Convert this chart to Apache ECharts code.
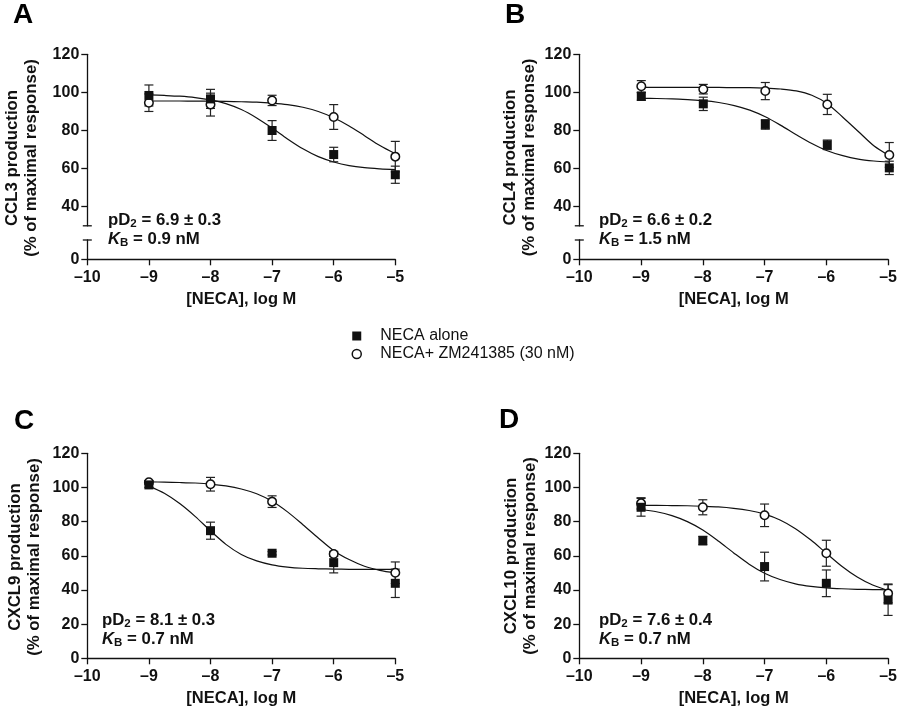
<!DOCTYPE html>
<html><head><meta charset="utf-8">
<script src="https://cdn.jsdelivr.net/npm/echarts@6/dist/echarts.min.js"></script>
<style>html,body{margin:0;padding:0;background:#fff}#c{width:900px;height:709px}</style>
</head><body><div id="c"></div>
<script>
// ---------- data ----------
const xTickValues = [-10, -9, -8, -7, -6, -5];
const doseLogM = [-9, -8, -7, -6, -5];
const fitLogM = [-9, -8.75, -8.5, -8.25, -8, -7.75, -7.5, -7.25, -7, -6.75, -6.5, -6.25, -6, -5.75, -5.5, -5.25, -5];
const seriesNames = ['NECA alone', 'NECA+ ZM241385 (30 nM)'];
const panelLetters = ['A', 'B', 'C', 'D'];
const yTitles = ['CCL3 production', 'CCL4 production', 'CXCL9 production', 'CXCL10 production'];
const yTitle2 = '(% of maximal response)';
const xTitle = '[NECA], log M';
const pD2Text = ['6.9 ± 0.3', '6.6 ± 0.2', '8.1 ± 0.3', '7.6 ± 0.4'];
const kbText = ['0.9 nM', '1.5 nM', '0.7 nM', '0.7 nM'];

// A: CCL3
const ccl3Alone = [98.4, 96.6, 80.0, 67.4, 56.8];
const ccl3AloneErr = [5.5, 5.0, 5.2, 3.8, 4.5];
const ccl3Zm = [94.6, 93.6, 95.8, 87.1, 66.3];
const ccl3ZmErr = [4.6, 6.0, 2.7, 6.5, 8.0];
const ccl3AloneFit = [98.7, 98.4, 98.0, 97.3, 96.1, 94.1, 91.0, 86.6, 81.3, 75.6, 70.4, 66.3, 63.5, 61.6, 60.5, 59.9, 59.5];
const ccl3ZmFit = [95.5, 95.5, 95.5, 95.4, 95.4, 95.3, 95.1, 94.9, 94.4, 93.6, 92.2, 90.0, 86.7, 82.4, 77.3, 72.1, 67.8];

// B: CCL4
const ccl4Alone = [97.9, 94.0, 83.2, 72.5, 60.4];
const ccl4AloneErr = [2.0, 3.5, 2.5, 2.5, 3.5];
const ccl4Zm = [103.2, 101.7, 100.7, 93.7, 67.2];
const ccl4ZmErr = [3.0, 2.5, 4.5, 5.3, 6.5];
const ccl4AloneFit = [96.9, 96.8, 96.6, 96.2, 95.7, 94.7, 93.1, 90.7, 87.2, 82.7, 77.8, 73.2, 69.4, 66.8, 65.0, 64.0, 63.4];
const ccl4ZmFit = [102.6, 102.6, 102.6, 102.6, 102.6, 102.6, 102.5, 102.5, 102.3, 101.8, 100.8, 98.5, 94.1, 87.0, 79.5, 72.0, 66.8];

// C: CXCL9
const cxcl9Alone = [101.5, 74.7, 61.5, 56.0, 43.9];
const cxcl9AloneErr = [1.5, 5.0, 1.0, 6.0, 8.3];
const cxcl9Zm = [103.0, 101.9, 91.7, 61.1, 50.1];
const cxcl9ZmErr = [1.0, 4.0, 3.4, 1.5, 6.3];
const cxcl9AloneFit = [100.8, 96.6, 90.6, 83.1, 74.6, 66.7, 60.8, 57.0, 54.7, 53.4, 52.7, 52.4, 52.2, 52.1, 52.0, 52.0, 52.0];
const cxcl9ZmFit = [103.3, 103.1, 102.9, 102.6, 102.0, 100.9, 99.1, 96.3, 91.9, 85.7, 78.2, 70.4, 63.0, 57.8, 53.9, 51.5, 50.0];

// D: CXCL10
const cxcl10Alone = [88.4, 68.9, 53.7, 43.9, 34.1];
const cxcl10AloneErr = [5.2, 2.5, 8.4, 7.8, 9.0];
const cxcl10Zm = [90.7, 88.4, 83.7, 61.5, 38.0];
const cxcl10ZmErr = [3.3, 4.4, 6.6, 7.6, 5.5];
const cxcl10AloneFit = [87.1, 85.8, 83.5, 80.0, 75.1, 68.7, 61.7, 55.1, 49.8, 46.1, 43.6, 42.1, 41.2, 40.7, 40.4, 40.2, 40.1];
const cxcl10ZmFit = [89.5, 89.5, 89.4, 89.3, 89.0, 88.6, 87.8, 86.5, 84.4, 81.0, 75.9, 69.2, 61.5, 53.9, 47.6, 42.9, 39.7];

const upperTicks = [40, 60, 80, 100, 120];
const lowerTicks = [0];

// ---------- layout ----------
const FONT = '"Liberation Sans", Arial, Helvetica, sans-serif';
const INK = '#111';
const panels = [
  {alone: ccl3Alone, aloneErr: ccl3AloneErr, zm: ccl3Zm, zmErr: ccl3ZmErr, aFit: ccl3AloneFit, zFit: ccl3ZmFit},
  {alone: ccl4Alone, aloneErr: ccl4AloneErr, zm: ccl4Zm, zmErr: ccl4ZmErr, aFit: ccl4AloneFit, zFit: ccl4ZmFit},
  {alone: cxcl9Alone, aloneErr: cxcl9AloneErr, zm: cxcl9Zm, zmErr: cxcl9ZmErr, aFit: cxcl9AloneFit, zFit: cxcl9ZmFit},
  {alone: cxcl10Alone, aloneErr: cxcl10AloneErr, zm: cxcl10Zm, zmErr: cxcl10ZmErr, aFit: cxcl10AloneFit, zFit: cxcl10ZmFit}
];
// grids: 0 A-upper, 1 A-lower, 2 B-upper, 3 B-lower, 4 C, 5 D
const grids = [
  {left: 87.3, top: 54.3, width: 308, height: 171.5},
  {left: 87.3, top: 240, width: 308, height: 19.3},
  {left: 579.3, top: 54.3, width: 310, height: 171.5},
  {left: 579.3, top: 240, width: 310, height: 19.3},
  {left: 87.3, top: 453.3, width: 308, height: 205},
  {left: 579.3, top: 453.3, width: 310, height: 205}
];
const dataGrid = [0, 2, 4, 5];
const axisGridWithX = [1, 3, 4, 5];

const lineStyle = {color: INK, width: 1.3};
const labelStyle = {color: INK, fontSize: 16, fontWeight: 'bold', fontFamily: FONT};
const fmt = v => (v < 0 ? '\u2013' + Math.abs(v) : String(v));

const xAxes = grids.map((g, i) => {
  const shown = axisGridWithX.includes(i);
  return {
    type: 'value', gridIndex: i, min: -10, max: -5, interval: 1,
    show: shown,
    axisLine: {show: shown, onZero: false, lineStyle},
    axisTick: {show: shown, length: 6, lineStyle},
    axisLabel: {show: shown, margin: 10, formatter: fmt, ...labelStyle},
    splitLine: {show: false},
    name: shown ? xTitle : '', nameLocation: 'middle', nameGap: 32,
    nameTextStyle: {...labelStyle, fontSize: 16.5}
  };
});
const yAxes = grids.map((g, i) => {
  const base = {
    type: 'value', gridIndex: i,
    axisLine: {show: true, onZero: false, lineStyle},
    axisTick: {show: true, length: 6, lineStyle},
    axisLabel: {margin: 8, ...labelStyle},
    splitLine: {show: false}
  };
  if (i === 0 || i === 2) {
    base.min = 30; base.max = 120; base.interval = 10;
    base.axisLabel.customValues = upperTicks;
    base.axisTick.customValues = upperTicks;
  } else if (i === 1 || i === 3) {
    base.min = 0; base.max = 10; base.interval = 10;
    base.axisLabel.customValues = lowerTicks;
    base.axisTick.customValues = lowerTicks;
  } else {
    base.min = 0; base.max = 120; base.interval = 20;
  }
  return base;
});

function errRender(params, api) {
  const x = api.value(0), lo = api.value(1), hi = api.value(2);
  const a = api.coord([x, lo]), b = api.coord([x, hi]);
  const hw = 4.5;
  const st = {stroke: '#222', lineWidth: 1.2};
  return {type: 'group', children: [
    {type: 'line', shape: {x1: a[0], y1: a[1], x2: b[0], y2: b[1]}, style: st},
    {type: 'line', shape: {x1: a[0] - hw, y1: a[1], x2: a[0] + hw, y2: a[1]}, style: st},
    {type: 'line', shape: {x1: b[0] - hw, y1: b[1], x2: b[0] + hw, y2: b[1]}, style: st}
  ]};
}

const series = [];
panels.forEach((p, k) => {
  const g = dataGrid[k];
  const ax = {xAxisIndex: g, yAxisIndex: g};
  series.push({type: 'line', name: 'fit-alone-' + k, ...ax, data: fitLogM.map((x, i) => [x, p.aFit[i]]),
    smooth: 0.3, showSymbol: false, symbol: 'none', lineStyle: {color: INK, width: 1.2}, z: 2, silent: true});
  series.push({type: 'line', name: 'fit-zm-' + k, ...ax, data: fitLogM.map((x, i) => [x, p.zFit[i]]),
    smooth: 0.3, showSymbol: false, symbol: 'none', lineStyle: {color: INK, width: 1.2}, z: 2, silent: true});
  series.push({type: 'custom', name: 'err-alone-' + k, ...ax, renderItem: errRender, encode: {x: 0, y: [1, 2]},
    data: doseLogM.map((x, i) => [x, p.alone[i] - p.aloneErr[i], p.alone[i] + p.aloneErr[i]]), z: 3, silent: true});
  series.push({type: 'custom', name: 'err-zm-' + k, ...ax, renderItem: errRender, encode: {x: 0, y: [1, 2]},
    data: doseLogM.map((x, i) => [x, p.zm[i] - p.zmErr[i], p.zm[i] + p.zmErr[i]]), z: 3, silent: true});
  series.push({type: 'scatter', name: seriesNames[1], ...ax, data: doseLogM.map((x, i) => [x, p.zm[i]]),
    symbol: 'circle', symbolSize: 8.5, itemStyle: {color: '#fff', borderColor: INK, borderWidth: 1.5, opacity: 1}, z: 4, silent: true});
  series.push({type: 'scatter', name: seriesNames[0], ...ax, data: doseLogM.map((x, i) => [x, p.alone[i]]),
    symbol: 'rect', symbolSize: 9, itemStyle: {color: INK, opacity: 1}, z: 5, silent: true});
});

const option = {
  animation: false,
  backgroundColor: '#fff',
  grid: grids.map(g => ({...g, containLabel: false})),
  xAxis: xAxes,
  yAxis: yAxes,
  legend: {
    orient: 'vertical', left: 351.5, top: 327, padding: 0, itemGap: 0,
    itemWidth: 9, itemHeight: 9, selectedMode: false,
    data: [
      {name: seriesNames[0], icon: 'rect', itemStyle: {color: INK}},
      {name: seriesNames[1], icon: 'circle', itemStyle: {color: '#fff', borderColor: INK, borderWidth: 1.5}}
    ],
    textStyle: {fontSize: 16, color: INK, fontFamily: FONT, lineHeight: 18, padding: [0, 0, 0, 14]}
  },
  series
};

const chart = echarts.init(document.getElementById('c'), null, {renderer: 'canvas'});
chart.setOption(option);

// ---------- text & axis-break caps ----------
const letterPos = [[23, 15], [515, 15], [24, 421], [509, 420]];
const yTitlePos = [[22, 158], [520, 157.5], [25, 557], [521, 556]];
const notePos = [[108, 210.5], [599, 210.5], [102, 610.5], [599, 610.5]];
const graphics = [];
panels.forEach((p, k) => {
  graphics.push({type: 'text', x: letterPos[k][0], y: letterPos[k][1],
    style: {text: panelLetters[k], fontSize: 28, fontWeight: 'bold', fontFamily: FONT, fill: '#000', align: 'center', verticalAlign: 'middle'}});
  graphics.push({type: 'text', x: yTitlePos[k][0], y: yTitlePos[k][1], rotation: Math.PI / 2,
    style: {text: yTitles[k] + '\n' + yTitle2, fontSize: 16.8, fontWeight: 'bold', fontFamily: FONT, fill: INK, lineHeight: 19, align: 'center', verticalAlign: 'middle'}});
  graphics.push({type: 'text', x: notePos[k][0], y: notePos[k][1],
    style: {
      text: '{n|pD}{s|2}{n| = ' + pD2Text[k] + '}\n{i|K}{s|B}{n| = ' + kbText[k] + '}',
      fontFamily: FONT, fill: INK, align: 'left', verticalAlign: 'top',
      rich: {
        n: {fontSize: 16.8, fontWeight: 'bold', fontFamily: FONT, fill: INK, lineHeight: 19},
        i: {fontSize: 16.8, fontWeight: 'bold', fontStyle: 'italic', fontFamily: FONT, fill: INK, lineHeight: 19},
        s: {fontSize: 11.5, fontWeight: 'bold', fontFamily: FONT, fill: INK, lineHeight: 12, verticalAlign: 'bottom'}
      }
    }});
});
// break caps on the split y-axes of panels A and B
[[0, 1], [2, 3]].forEach(([up, lo]) => {
  const a = chart.convertToPixel({gridIndex: up}, [-10, 30]);
  const b = chart.convertToPixel({gridIndex: lo}, [-10, 10]);
  [a, b].forEach(pt => {
    graphics.push({type: 'line', shape: {x1: pt[0] - 4.5, y1: pt[1], x2: pt[0] + 4.5, y2: pt[1]},
      style: {stroke: INK, lineWidth: 1.3}});
  });
});
chart.setOption({graphic: graphics});
</script>
</body></html>
